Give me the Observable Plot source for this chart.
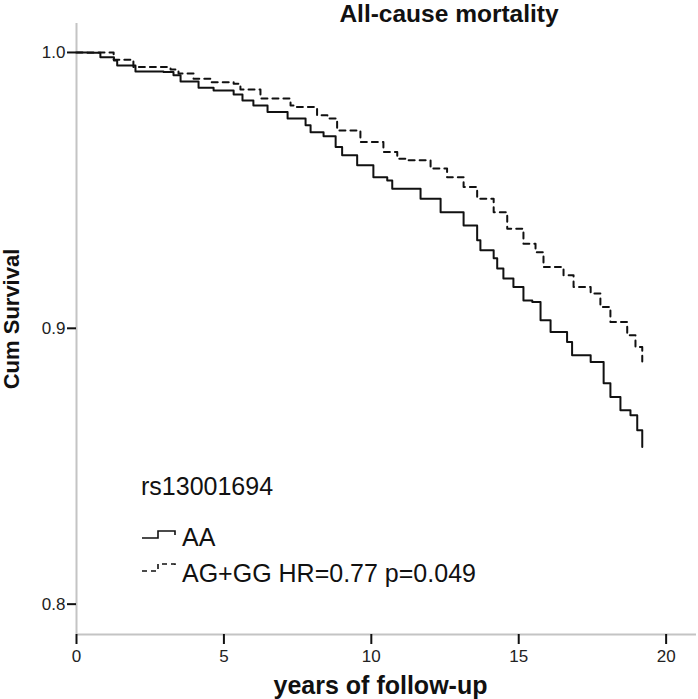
<!DOCTYPE html>
<html><head><meta charset="utf-8">
<script src="https://cdn.jsdelivr.net/npm/d3@7"></script>
<script src="https://cdn.jsdelivr.net/npm/@observablehq/plot@0.6"></script>
<style>
html,body{margin:0;padding:0;background:#fff;overflow:hidden}
body{font-family:"Liberation Sans",Arial,sans-serif;width:698px;height:699px;position:relative}
#title{position:absolute;z-index:3;left:200px;width:498px;top:0px;text-align:center;font-weight:bold;font-size:24.5px;line-height:28px;color:#111;white-space:nowrap}
#chart{position:absolute;z-index:1;left:0;top:20px}
#legend{position:absolute;z-index:2;left:0;top:0}
.lg{position:absolute;font-size:25px;line-height:24px;color:#111;white-space:nowrap}
.sym{position:absolute}
</style></head><body>
<div id="title"></div>
<div id="chart"></div>
<div id="legend"></div>
<script>
// ---- data ----
const title = "All-cause mortality";
const xLabel = "years of follow-up";
const yLabel = "Cum Survival";
const legendTitle = "rs13001694";
const groups = ["AA", "AG+GG HR=0.77 p=0.049"];
const xTicks = [0, 5, 10, 15, 20];
const yTicks = [0.8, 0.9, 1.0];

const aaTime = [0, 0.36, 0.81, 1.27, 1.38, 2.0, 2.95, 3.29, 3.53, 4.14, 4.65, 5.33, 5.63, 6.0, 6.48, 7.16, 7.77, 7.94, 8.38, 8.79, 9.01, 9.52, 10.07, 10.54, 10.71, 11.67, 12.35, 13.13, 13.59, 13.70, 14.15, 14.27, 14.48, 14.82, 15.16, 15.46, 15.74, 16.08, 16.64, 16.81, 17.44, 17.88, 18.11, 18.45, 18.79, 19.02, 19.19];
const aaSurv = [1.0, 0.9999, 0.9983, 0.9971, 0.9953, 0.9931, 0.9929, 0.9917, 0.9895, 0.9872, 0.9862, 0.9848, 0.9826, 0.9808, 0.9784, 0.9761, 0.9736, 0.9711, 0.9696, 0.9657, 0.9627, 0.9591, 0.9548, 0.9536, 0.9506, 0.9470, 0.9421, 0.9373, 0.9319, 0.9283, 0.9254, 0.9217, 0.9181, 0.9150, 0.9101, 0.9095, 0.9029, 0.8987, 0.8950, 0.8902, 0.8878, 0.8801, 0.8751, 0.8703, 0.8685, 0.8630, 0.8570];

const agTime = [0, 1.26, 1.93, 3.19, 3.46, 3.97, 4.55, 5.33, 5.56, 6.24, 7.26, 7.36, 8.16, 8.51, 8.84, 9.63, 10.41, 10.88, 11.22, 12.01, 12.57, 13.13, 13.59, 14.15, 14.61, 15.16, 15.57, 15.84, 16.52, 16.86, 17.44, 17.77, 18.11, 18.68, 18.96, 19.19];
const agSurv = [1.0, 0.9974, 0.9947, 0.9938, 0.9924, 0.9905, 0.9892, 0.9887, 0.9866, 0.9833, 0.9808, 0.9802, 0.9772, 0.9761, 0.9717, 0.9675, 0.9639, 0.9615, 0.9609, 0.9579, 0.9548, 0.9512, 0.9470, 0.9421, 0.9361, 0.9307, 0.9276, 0.9222, 0.9192, 0.9150, 0.9126, 0.9077, 0.9023, 0.8975, 0.8932, 0.8880];

const aa = aaTime.map((t, i) => ({t, s: aaSurv[i]}));
const ag = agTime.map((t, i) => ({t, s: agSurv[i]}));

document.getElementById("title").textContent = title;

const plot = Plot.plot({
  width: 698,
  height: 679,
  marginLeft: 76,
  marginRight: 2,
  marginTop: 3,
  marginBottom: 65,
  x: {domain: [0, 21.03]},
  y: {domain: [0.789, 1.0105]},
  style: {fontFamily: "'Liberation Sans', Arial, sans-serif", fontSize: "17px", color: "#222", background: "transparent"},
  marks: [
    Plot.ruleX([0], {stroke: "#c4c4c4", strokeWidth: 2}),
    Plot.ruleY([0.789], {stroke: "#c4c4c4", strokeWidth: 2}),
    Plot.axisY({ticks: yTicks, tickFormat: d3.format(".1f"), tickSize: 9, tickPadding: 2, stroke: "#111", strokeWidth: 2, label: null}),
    Plot.axisX({ticks: xTicks, tickSize: 10, tickPadding: 5, stroke: "#111", strokeWidth: 2, label: null}),
    Plot.line(aa, {x: "t", y: "s", curve: "step-after", stroke: "#111", strokeWidth: 2}),
    Plot.line(ag, {x: "t", y: "s", curve: "step-after", stroke: "#111", strokeWidth: 2, strokeDasharray: "6,5"}),
    Plot.text([yLabel], {text: d => d, frameAnchor: "left", textAnchor: "middle", lineAnchor: "middle", rotate: -90, dx: -65, dy: -10, fontSize: 22, fontWeight: "bold", fill: "#111"}),
    Plot.text([xLabel], {text: d => d, frameAnchor: "bottom", textAnchor: "middle", lineAnchor: "middle", dx: -6, dy: 51, fontSize: 25, fontWeight: "bold", fill: "#111"})
  ]
});
document.getElementById("chart").appendChild(plot);

// legend (HTML overlay inside the plot area)
const lg = document.getElementById("legend");
function addText(txt, left, top) {
  const d = document.createElement("div");
  d.className = "lg";
  d.style.left = left + "px";
  d.style.top = top + "px";
  d.textContent = txt;
  lg.appendChild(d);
}
function addSym(top, dash) {
  const ns = "http://www.w3.org/2000/svg";
  const s = document.createElementNS(ns, "svg");
  s.setAttribute("class", "sym");
  s.setAttribute("width", 38);
  s.setAttribute("height", 10);
  s.style.left = "141px";
  s.style.top = top + "px";
  const p = document.createElementNS(ns, "path");
  p.setAttribute("d", "M1,8H17V1H34V5");
  p.setAttribute("fill", "none");
  p.setAttribute("stroke", "#111");
  p.setAttribute("stroke-width", "1.6");
  if (dash) p.setAttribute("stroke-dasharray", "5,4");
  s.appendChild(p);
  lg.appendChild(s);
}
addText(legendTitle, 141, 474);
addSym(530, false);
addText(groups[0], 182, 525);
addSym(563, true);
addText(groups[1], 182, 561);
</script></body></html>
